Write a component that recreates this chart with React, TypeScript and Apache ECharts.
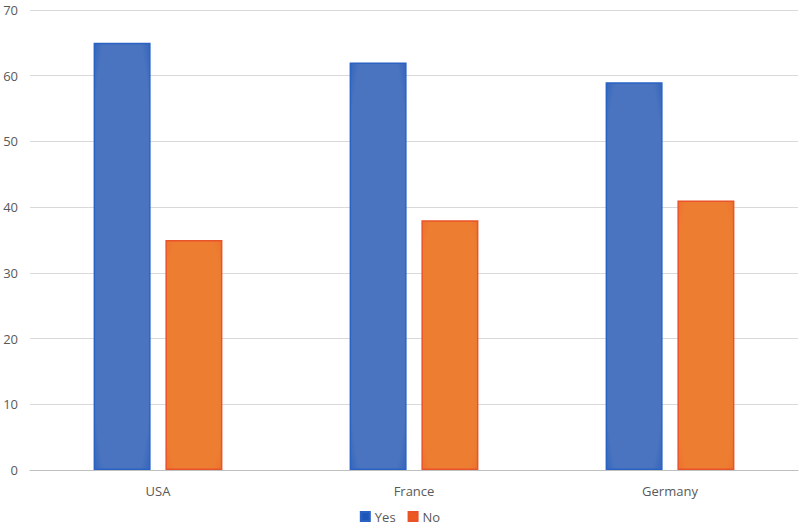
import React, { useEffect, useRef } from "react";
import * as echarts from "echarts";

const categories = ["USA", "France", "Germany"];
const yesValues = [65, 62, 59];
const noValues = [35, 38, 41];
const seriesNames = ["Yes", "No"];

function fill(center: string, edge: string) {
  return new echarts.graphic.RadialGradient(0.5, 0.5, 0.75, [
    { offset: 0, color: center },
    { offset: 0.8, color: center },
    { offset: 1, color: edge },
  ]);
}

export default function App() {
  const ref = useRef<HTMLDivElement>(null);
  useEffect(() => {
    if (!ref.current) return;
    const chart = echarts.init(ref.current, null, { renderer: "svg" });
    const font = "'Open Sans', 'Noto Sans', sans-serif";
    chart.setOption({
      animation: false,
      backgroundColor: "#ffffff",
      grid: { left: 30, right: 2, top: 10, bottom: 61, containLabel: false },
      legend: {
        bottom: 3,
        left: "center",
        itemWidth: 9,
        itemHeight: 9,
        itemGap: 12,
        icon: "rect",
        textStyle: { color: "#595959", fontSize: 13, fontFamily: font },
        data: [
          { name: seriesNames[0], itemStyle: { color: "#1f57b8" } },
          { name: seriesNames[1], itemStyle: { color: "#ec5a22" } },
        ],
      },
      xAxis: {
        type: "category",
        data: categories,
        axisTick: { show: false },
        axisLine: { lineStyle: { color: "#bfbfbf", width: 1 } },
        axisLabel: { color: "#595959", fontSize: 13, fontFamily: font, margin: 14 },
      },
      yAxis: {
        type: "value",
        min: 0,
        max: 70,
        interval: 10,
        axisLine: { show: false },
        axisTick: { show: false },
        splitLine: { lineStyle: { color: "#d9d9d9", width: 1 } },
        axisLabel: { color: "#595959", fontSize: 13, fontFamily: font, margin: 12 },
      },
      series: [
        {
          name: seriesNames[0],
          type: "bar",
          data: yesValues,
          barWidth: 57,
          barGap: "26%",
          itemStyle: {
            color: fill("#4a74bf", "#2c5fbb"),
            borderColor: "#2a62c4",
            borderWidth: 1.5,
          },
        },
        {
          name: seriesNames[1],
          type: "bar",
          data: noValues,
          barWidth: 57,
          itemStyle: {
            color: fill("#ed7d31", "#ec6e2a"),
            borderColor: "#e9532a",
            borderWidth: 1.5,
          },
        },
      ],
    });
    return () => chart.dispose();
  }, []);
  return <div ref={ref} style={{ width: 800, height: 531, position: "absolute", left: 0, top: 0 }} />;
}
